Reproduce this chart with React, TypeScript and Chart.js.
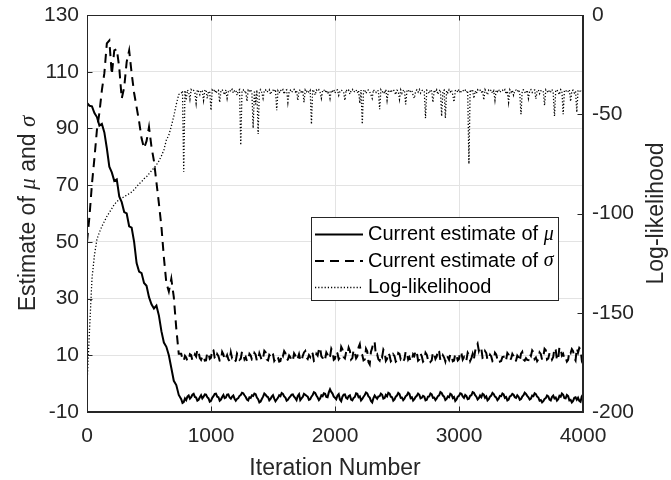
import React, { useEffect, useRef } from "react";
import { Chart, registerables } from "chart.js";

Chart.register(...registerables);

// ---------- data ----------
// iteration numbers (coarse during burn-in, finer afterwards)
const ITERATIONS = [
  0, 20, 40, 60, 80, 100, 120, 140, 160, 180,
  200, 220, 240, 260, 280, 300, 320, 340, 360, 380,
  400, 420, 440, 460, 480, 500, 520, 540, 560, 580,
  600, 620, 640, 660, 680, 700, 720, 740,
  760, 770, 780, 790, 800, 810, 820, 830, 840, 850,
  860, 870, 880, 890, 900, 910, 920, 930, 940, 950,
  960, 970, 980, 990, 1000, 1010, 1020, 1030, 1040, 1050,
  1060, 1070, 1080, 1090, 1100, 1110, 1120, 1130, 1140, 1150,
  1160, 1170, 1180, 1190, 1200, 1210, 1220, 1230, 1240, 1250,
  1260, 1270, 1280, 1290, 1300, 1310, 1320, 1330, 1340, 1350,
  1360, 1370, 1380, 1390, 1400, 1410, 1420, 1430, 1440, 1450,
  1460, 1470, 1480, 1490, 1500, 1510, 1520, 1530, 1540, 1550,
  1560, 1570, 1580, 1590, 1600, 1610, 1620, 1630, 1640, 1650,
  1660, 1670, 1680, 1690, 1700, 1710, 1720, 1730, 1740, 1750,
  1760, 1770, 1780, 1790, 1800, 1810, 1820, 1830, 1840, 1850,
  1860, 1870, 1880, 1890, 1900, 1910, 1920, 1930, 1940, 1950,
  1960, 1970, 1980, 1990, 2000, 2010, 2020, 2030, 2040, 2050,
  2060, 2070, 2080, 2090, 2100, 2110, 2120, 2130, 2140, 2150,
  2160, 2170, 2180, 2190, 2200, 2210, 2220, 2230, 2240, 2250,
  2260, 2270, 2280, 2290, 2300, 2310, 2320, 2330, 2340, 2350,
  2360, 2370, 2380, 2390, 2400, 2410, 2420, 2430, 2440, 2450,
  2460, 2470, 2480, 2490, 2500, 2510, 2520, 2530, 2540, 2550,
  2560, 2570, 2580, 2590, 2600, 2610, 2620, 2630, 2640, 2650,
  2660, 2670, 2680, 2690, 2700, 2710, 2720, 2730, 2740, 2750,
  2760, 2770, 2780, 2790, 2800, 2810, 2820, 2830, 2840, 2850,
  2860, 2870, 2880, 2890, 2900, 2910, 2920, 2930, 2940, 2950,
  2960, 2970, 2980, 2990, 3000, 3010, 3020, 3030, 3040, 3050,
  3060, 3070, 3080, 3090, 3100, 3110, 3120, 3130, 3140, 3150,
  3160, 3170, 3180, 3190, 3200, 3210, 3220, 3230, 3240, 3250,
  3260, 3270, 3280, 3290, 3300, 3310, 3320, 3330, 3340, 3350,
  3360, 3370, 3380, 3390, 3400, 3410, 3420, 3430, 3440, 3450,
  3460, 3470, 3480, 3490, 3500, 3510, 3520, 3530, 3540, 3550,
  3560, 3570, 3580, 3590, 3600, 3610, 3620, 3630, 3640, 3650,
  3660, 3670, 3680, 3690, 3700, 3710, 3720, 3730, 3740, 3750,
  3760, 3770, 3780, 3790, 3800, 3810, 3820, 3830, 3840, 3850,
  3860, 3870, 3880, 3890, 3900, 3910, 3920, 3930, 3940, 3950,
  3960, 3970, 3980, 3990, 4000,
];

// Current estimate of mu (left axis)
const MU = [
  99, 98, 97.8, 95.4, 94, 91, 91.6, 88.6, 83, 76.5,
  74.5, 71.5, 72, 66, 64, 60.5, 60, 55.5, 55, 50,
  42.5, 39.5, 39, 35.5, 34.5, 30.5, 28, 26.5, 27.5, 24,
  18.5, 14.5, 13, 10, 5.5, 1, -0.5, -4,
  -5.5, -6.8, -6.5, -5.2, -5.8, -4.6, -4.2, -5.3, -4.8, -3.9,
  -3.6, -4.7, -4.9, -6.0, -5.7, -4.8, -4.1, -5.2, -4.6, -3.8,
  -3.9, -4.8, -5.2, -6.4, -6.1, -5.0, -4.4, -3.6, -3.5, -4.6,
  -4.8, -6.0, -5.6, -4.7, -4.0, -5.1, -4.9, -3.9, -3.8, -4.9,
  -5.3, -4.6, -4.2, -5.3, -6.0, -5.4, -5.1, -4.3, -4.0, -3.2,
  -3.4, -4.1, -4.7, -5.6, -5.9, -4.8, -5.0, -4.1, -4.3, -3.5,
  -3.7, -4.9, -5.5, -6.6, -6.3, -5.4, -4.6, -3.5, -3.9, -4.5,
  -4.8, -5.9, -5.4, -4.6, -4.1, -5.3, -6.2, -5.6, -5.0, -4.1,
  -4.4, -3.3, -3.6, -4.5, -4.9, -6.0, -5.7, -5.0, -4.5, -3.9,
  -3.8, -4.6, -5.1, -5.8, -4.3, -3.7, -5.8, -5.2, -4.7, -3.6,
  -3.9, -4.3, -4.6, -5.7, -5.5, -4.6, -4.0, -3.0, -3.3, -4.2,
  -4.9, -5.8, -5.2, -4.1, -4.4, -3.4, -3.6, -4.7, -4.8, -3.1,
  -2.0, -2.9, -3.5, -4.6, -5.0, -5.5, -4.2, -3.7, -5.6, -6.2,
  -4.6, -3.9, -3.8, -5.0, -5.3, -4.4, -4.1, -5.6, -5.9, -5.0,
  -4.7, -3.4, -3.6, -4.8, -4.5, -5.9, -5.4, -4.6, -4.0, -3.1,
  -3.4, -4.5, -4.9, -6.1, -6.6, -5.1, -4.2, -4.8, -5.3, -4.5,
  -4.4, -3.5, -3.9, -5.3, -5.1, -4.0, -4.5, -3.2, -3.5, -4.6,
  -4.8, -6.0, -5.6, -4.6, -4.2, -3.3, -3.7, -5.0, -4.9, -5.8,
  -5.3, -4.4, -4.1, -3.2, -3.6, -5.1, -4.8, -6.0, -5.5, -4.7,
  -4.3, -3.5, -3.9, -5.2, -5.0, -4.3, -4.6, -5.9, -5.7, -4.6,
  -4.5, -3.5, -3.8, -5.0, -4.9, -5.8, -5.2, -4.4, -4.1, -3.0,
  -3.3, -4.2, -4.6, -5.8, -5.4, -4.5, -4.8, -3.6, -3.9, -5.1,
  -4.7, -6.1, -5.6, -4.6, -4.3, -3.4, -3.6, -4.5, -5.0, -4.0,
  -4.4, -5.5, -5.3, -4.3, -4.1, -3.0, -3.2, -4.1, -4.6, -5.6,
  -5.1, -4.2, -4.8, -3.6, -3.9, -5.0, -4.5, -5.9, -5.5, -4.6,
  -4.2, -3.3, -3.7, -4.6, -4.9, -5.8, -5.3, -4.3, -4.4, -3.5,
  -3.8, -5.0, -4.7, -5.9, -5.6, -4.5, -4.3, -3.6, -3.9, -4.8,
  -5.0, -4.1, -4.6, -5.7, -5.4, -4.6, -4.1, -3.2, -3.6, -4.3,
  -4.8, -5.6, -5.3, -4.2, -4.4, -3.4, -3.7, -4.6, -4.9, -6.0,
  -5.8, -6.6, -6.2, -5.4, -5.1, -4.2, -4.5, -5.6, -5.9, -4.7,
  -4.2, -5.2, -4.9, -6.0, -5.5, -4.3, -4.6, -3.5, -3.9, -5.1,
  -5.2, -4.0, -4.4, -5.9, -5.7, -6.6, -6.1, -5.0, -4.8, -5.7,
  -5.0, -6.1, -6.4, -4.5, -3.8,
];

// Current estimate of sigma (left axis)
const SIGMA = [
  50, 59, 70.5, 79.5, 89.5, 95.5, 103.5, 109.5, 120, 121,
  109, 117.5, 118, 111.5, 100.5, 104.5, 113.5, 117.5, 109.5, 102.5,
  97.5, 92.5, 86.5, 83, 85.5, 90.5, 83.5, 78.5, 71, 63.5,
  55.5, 44.5, 35.5, 32.5, 37, 30.5, 19.5, 10.5,
  10.5, 8.6, 8.0, 9.8, 9.2, 7.9, 8.3, 10.4, 10.1, 8.2,
  8.7, 10.3, 9.6, 12.0, 11.2, 9.0, 8.4, 9.5, 9.9, 8.1,
  8.2, 11.0, 10.6, 8.7, 9.1, 12.2, 11.8, 9.0, 8.5, 10.4,
  9.7, 8.1, 8.0, 11.2, 10.3, 8.4, 9.0, 10.1, 8.6, 7.9,
  11.0, 9.0, 9.3, 7.8, 8.1, 10.6, 9.8, 8.4, 8.8, 11.3,
  10.7, 8.6, 9.4, 7.9, 8.3, 10.5, 9.9, 8.5, 8.7, 10.8,
  10.2, 8.0, 8.4, 10.7, 9.5, 8.1, 8.9, 11.6, 11.1, 8.5,
  8.2, 10.1, 9.6, 11.0, 10.4, 8.0, 8.6, 9.8, 9.2, 7.8,
  8.0, 10.4, 9.7, 11.5, 10.8, 8.3, 8.5, 9.9, 9.3, 7.9,
  8.1, 10.7, 10.0, 8.3, 9.0, 10.4, 8.4, 7.9, 9.8, 11.0,
  11.5, 9.2, 8.7, 10.1, 9.4, 11.3, 10.6, 8.0, 8.3, 10.5,
  9.9, 11.9, 12.8, 9.6, 9.1, 7.9, 8.6, 11.0, 10.2, 8.8,
  9.5, 12.3, 11.3, 8.4, 8.8, 11.4, 10.7, 8.6, 9.2, 13.0,
  12.1, 9.4, 8.9, 11.2, 10.4, 12.7, 11.6, 8.5, 9.0, 11.9,
  10.8, 8.9, 9.6, 12.8, 13.9, 10.7, 10.1, 8.2, 8.5, 12.3,
  11.4, 7.6, 6.8, 11.3, 12.6, 14.9, 14.6, 9.8, 10.3, 8.6,
  8.1, 10.2, 9.4, 12.0, 11.2, 8.0, 8.7, 10.9, 10.0, 7.9,
  8.4, 10.3, 9.7, 7.8, 8.2, 10.8, 10.5, 8.6, 9.1, 7.9,
  8.6, 11.4, 10.9, 8.5, 9.3, 7.9, 8.0, 10.4, 9.8, 11.7,
  11.0, 8.1, 8.5, 10.6, 9.6, 7.8, 8.3, 10.9, 10.2, 8.4,
  9.0, 7.7, 8.2, 11.1, 10.4, 8.7, 9.5, 12.0, 11.3, 8.1,
  8.6, 10.0, 9.2, 7.8, 10.0, 9.3, 8.4, 10.4, 9.7, 7.9,
  8.1, 10.6, 9.9, 8.2, 8.7, 11.3, 10.6, 8.5, 9.3, 7.8,
  8.3, 10.9, 10.1, 8.0, 9.0, 10.5, 8.6, 11.4, 13.2, 14.1,
  11.6, 13.0, 12.4, 9.1, 9.4, 11.5, 10.8, 8.3, 8.9, 10.2,
  9.6, 7.9, 8.2, 10.9, 10.3, 8.5, 9.1, 7.8, 8.0, 9.4,
  9.5, 7.9, 8.4, 10.8, 10.2, 8.2, 8.8, 10.5, 9.7, 7.8,
  8.1, 9.9, 9.3, 7.9, 10.6, 11.2, 8.5, 8.1, 9.0, 8.4,
  8.3, 10.5, 9.8, 11.7, 11.1, 8.7, 9.2, 7.9, 8.6, 11.0,
  10.4, 8.4, 9.5, 12.3, 11.8, 8.5, 8.9, 10.8, 10.0, 8.5,
  9.4, 12.6, 11.9, 8.2, 8.7, 12.9, 12.2, 9.9, 10.5, 8.6,
  9.1, 7.8, 8.4, 11.4, 10.8, 12.2, 11.5, 9.0, 8.2, 12.5,
  11.0, 12.6, 12.1, 8.4, 9.6,
];

// Log-likelihood (right axis)
const LOGLIK = [
  -186, -159, -133, -121, -113, -109.5, -106.5, -104, -101.5, -99.5,
  -97.5, -95.5, -94, -93, -92.3, -91.5, -90.8, -90, -89.2, -88,
  -86.5, -85, -84, -82.5, -81.5, -80, -78.5, -77, -75.5, -73.5,
  -71, -68, -63, -60.5, -56, -51, -45, -40,
  -39.5, -38.2, -79, -38.0, -43, -37.8, -38.9, -42.5, -37.6, -38.4,
  -38.0, -39.2, -44.5, -37.7, -38.5, -40.1, -37.9, -38.3, -43, -38.1,
  -37.6, -42, -38.4, -39.0, -48, -37.8, -38.6, -37.5, -39.4, -38.2,
  -37.9, -44, -38.3, -37.6, -38.8, -40.2, -37.7, -42, -38.5, -37.8,
  -38.6, -37.5, -39.3, -38.1, -37.8, -40.4, -38.3, -37.6, -65.5, -38.4,
  -37.7, -39.0, -38.2, -43.5, -37.9, -38.6, -37.5, -39.6, -57, -38.0,
  -45, -37.8, -60, -38.5, -37.6, -39.1, -42, -38.2, -37.7, -38.9,
  -38.3, -37.6, -40.0, -38.4, -37.9, -38.7, -37.5, -48, -38.2, -39.3,
  -37.8, -38.5, -37.6, -39.8, -38.1, -37.7, -44, -38.6, -37.9, -39.0,
  -38.2, -37.5, -38.8, -37.9, -43, -38.3, -37.6, -39.5, -38.0, -44,
  -37.7, -38.6, -37.9, -39.2, -38.1, -55, -37.6, -38.4, -40.3, -37.8,
  -38.5, -37.7, -39.0, -42, -38.2, -37.6, -38.9, -37.8, -39.7, -38.3,
  -42, -37.9, -38.4, -37.6, -39.3, -38.0, -37.7, -40.5, -38.6, -37.8,
  -38.2, -39.1, -43, -37.6, -38.5, -37.9, -39.8, -38.1, -37.5, -38.8,
  -38.4, -37.7, -39.2, -38.0, -44.5, -37.8, -55, -38.3, -37.6, -39.5,
  -38.1, -37.8, -38.7, -40.2, -42, -37.6, -38.5, -39.0, -37.9, -38.3,
  -47.5, -37.7, -38.9, -38.2, -39.6, -37.5, -43, -38.4, -37.8, -39.1,
  -38.0, -37.6, -38.6, -40.1, -37.9, -38.3, -42.5, -37.7, -39.4, -38.1,
  -37.8, -45, -38.5, -37.6, -39.0, -38.2, -37.9, -40.6, -42, -38.4,
  -37.7, -38.8, -37.5, -39.3, -38.1, -37.8, -38.6, -52, -37.9, -38.3,
  -39.5, -37.6, -38.4, -44, -37.8, -38.9, -37.7, -40.0, -38.2, -37.6,
  -51, -38.5, -37.9, -52, -38.1, -39.2, -37.6, -38.7, -37.8, -40.3,
  -43.8, -38.2, -37.7, -38.9, -37.5, -39.4, -38.3, -37.8, -38.6, -37.9,
  -39.0, -38.1, -75, -37.6, -38.5, -37.8, -42, -38.3, -39.6, -37.7,
  -38.4, -37.9, -39.1, -38.0, -42.8, -37.6, -38.7, -40.2, -37.8, -38.3,
  -37.7, -39.4, -38.2, -43, -37.9, -38.6, -37.5, -39.0, -38.1, -37.8,
  -38.5, -37.6, -39.8, -38.3, -44, -37.7, -38.9, -37.9, -40.4, -38.2,
  -37.8, -38.6, -37.6, -39.3, -50, -38.0, -37.7, -38.8, -39.5, -37.9,
  -42, -38.3, -37.6, -39.0, -38.1, -37.8, -42.2, -38.5, -37.7, -39.6,
  -38.2, -37.9, -38.7, -45.5, -37.6, -38.4, -39.2, -37.8, -38.6, -37.5,
  -39.4, -51, -38.0, -37.7, -38.9, -40.1, -37.6, -38.3, -50, -38.1,
  -37.8, -39.0, -38.5, -37.6, -43.5, -38.2, -37.9, -39.3, -38.4, -49,
  -38.2, -37.7, -38.6, -38.0, -38.4,
];

const SERIES_LABELS = ["Current estimate of ", "Current estimate of ", "Log-likelihood"];
const SERIES_GREEK = ["\u03bc", "\u03c3", ""];

const X_MIN = 0, X_MAX = 4000, X_STEP = 1000;
const Y_MIN = -10, Y_MAX = 130, Y_STEP = 20;
const Y2_MIN = -200, Y2_MAX = 0, Y2_STEP = 50;

const X_TITLE = "Iteration Number";
const Y_TITLE_PARTS = [
  { t: "Estimate of ", it: false },
  { t: "\u03bc", it: true },
  { t: " and ", it: false },
  { t: "\u03c3", it: true },
];
const Y2_TITLE = "Log-likelihood";

// ---------- styles ----------
const FONT = "'Liberation Sans', Arial, Helvetica, sans-serif";
const SERIF = "'Liberation Serif', 'DejaVu Serif', serif";
const AXIS_COLOR = "#262626";
const GRID_COLOR = "#e3e3e3";
const TICK_LEN = 5;
const SOLID: number[] = [];
const DASHED = [9, 6];
const DOTTED = [1.2, 2];
const DASHES = [SOLID, DASHED, DOTTED];
const WIDTHS = [2, 2, 1.3];

const decorPlugin = {
  id: "decor",
  afterDraw(chart: any) {
    const { ctx, chartArea: ca, scales } = chart;
    const sx = scales.x, sy = scales.y, sy2 = scales.y2;
    ctx.save();
    ctx.setLineDash([]);
    const L = Math.round(ca.left) + 0.5, R = Math.round(ca.right) - 0.5;
    const T = Math.round(ca.top) + 0.5, B = Math.round(ca.bottom) - 0.5;
    ctx.strokeStyle = AXIS_COLOR;
    ctx.lineWidth = 1;
    ctx.strokeRect(L, T, R - L, B - T);
    ctx.beginPath();
    sx.ticks.forEach((t: any) => {
      const px = Math.round(sx.getPixelForValue(t.value)) + 0.5;
      ctx.moveTo(px, B); ctx.lineTo(px, B - TICK_LEN);
      ctx.moveTo(px, T); ctx.lineTo(px, T + TICK_LEN);
    });
    sy.ticks.forEach((t: any) => {
      const py = Math.round(sy.getPixelForValue(t.value)) + 0.5;
      ctx.moveTo(L, py); ctx.lineTo(L + TICK_LEN, py);
    });
    sy2.ticks.forEach((t: any) => {
      const py = Math.round(sy2.getPixelForValue(t.value)) + 0.5;
      ctx.moveTo(R, py); ctx.lineTo(R - TICK_LEN, py);
    });
    ctx.stroke();

    // legend
    const bw = 247, bh = 83;
    const bx = Math.round(ca.right) - 25 - bw;
    const by = Math.round(ca.top) + 202;
    ctx.fillStyle = "#ffffff";
    ctx.fillRect(bx, by, bw, bh);
    ctx.strokeStyle = AXIS_COLOR;
    ctx.lineWidth = 1;
    ctx.strokeRect(bx + 0.5, by + 0.5, bw, bh);
    const legendSize = 20;
    for (let i = 0; i < SERIES_LABELS.length; i++) {
      const cy = by + 17.5 + i * 26.5;
      ctx.beginPath();
      ctx.setLineDash(DASHES[i]);
      ctx.lineWidth = WIDTHS[i];
      ctx.strokeStyle = "#000";
      ctx.moveTo(bx + 4, cy);
      ctx.lineTo(bx + 52, cy);
      ctx.stroke();
      ctx.setLineDash([]);
      ctx.fillStyle = "#000";
      ctx.textBaseline = "middle";
      ctx.textAlign = "left";
      ctx.font = `${legendSize}px ${FONT}`;
      const tx = bx + 57;
      ctx.fillText(SERIES_LABELS[i], tx, cy);
      if (SERIES_GREEK[i]) {
        const w = ctx.measureText(SERIES_LABELS[i]).width;
        ctx.font = `italic ${legendSize}px ${SERIF}`;
        ctx.fillText(SERIES_GREEK[i], tx + w, cy);
      }
    }

    // titles
    const titleSize = 23;
    const midY = (ca.top + ca.bottom) / 2;
    ctx.fillStyle = AXIS_COLOR;
    ctx.textBaseline = "alphabetic";
    ctx.textAlign = "center";
    ctx.font = `${titleSize}px ${FONT}`;
    ctx.fillText(X_TITLE, (ca.left + ca.right) / 2, 475);

    ctx.save();
    ctx.translate(34.5, midY);
    ctx.rotate(-Math.PI / 2);
    ctx.textAlign = "left";
    const fontFor = (it: boolean) => (it ? `italic ${titleSize}px ${SERIF}` : `${titleSize}px ${FONT}`);
    let total = 0;
    const widths = Y_TITLE_PARTS.map((p) => {
      ctx.font = fontFor(p.it);
      const w = ctx.measureText(p.t).width;
      total += w;
      return w;
    });
    let cx = -total / 2;
    Y_TITLE_PARTS.forEach((p, i) => {
      ctx.font = fontFor(p.it);
      ctx.fillText(p.t, cx, 0);
      cx += widths[i];
    });
    ctx.restore();

    ctx.save();
    ctx.translate(663, midY);
    ctx.rotate(-Math.PI / 2);
    ctx.textAlign = "center";
    ctx.font = `${titleSize}px ${FONT}`;
    ctx.fillText(Y2_TITLE, 0, 0);
    ctx.restore();

    ctx.restore();
  },
};

export default function App() {
  const ref = useRef<HTMLCanvasElement | null>(null);
  useEffect(() => {
    document.body.style.margin = "0";
    const canvas = ref.current;
    if (!canvas) return;
    const tickFont = { family: FONT, size: 21 };
    const mk = (vals: number[]) => ITERATIONS.map((x, i) => ({ x, y: vals[i] }));
    const fmt = (v: any) => String(v);
    const chart = new Chart(canvas, {
      type: "line",
      data: {
        datasets: [
          {
            label: SERIES_LABELS[0] + SERIES_GREEK[0],
            data: mk(MU),
            yAxisID: "y",
            borderColor: "#000",
            borderWidth: WIDTHS[0],
            borderDash: DASHES[0],
            pointRadius: 0,
            tension: 0,
            fill: false,
          },
          {
            label: SERIES_LABELS[1] + SERIES_GREEK[1],
            data: mk(SIGMA),
            yAxisID: "y",
            borderColor: "#000",
            borderWidth: WIDTHS[1],
            borderDash: DASHES[1],
            pointRadius: 0,
            tension: 0,
            fill: false,
          },
          {
            label: SERIES_LABELS[2],
            data: mk(LOGLIK),
            yAxisID: "y2",
            borderColor: "#000",
            borderWidth: WIDTHS[2],
            borderDash: DASHES[2],
            pointRadius: 0,
            tension: 0,
            fill: false,
          },
        ],
      },
      options: {
        animation: false,
        responsive: false,
        maintainAspectRatio: false,
        layout: { padding: { top: 15, left: 0, right: 0, bottom: 0 } },
        plugins: { legend: { display: false }, tooltip: { enabled: false } },
        scales: {
          x: {
            type: "linear",
            min: X_MIN,
            max: X_MAX,
            ticks: { stepSize: X_STEP, font: tickFont, color: AXIS_COLOR, padding: 12, maxRotation: 0, callback: fmt },
            grid: { color: GRID_COLOR, drawTicks: false },
            border: { color: AXIS_COLOR, width: 1 },
            afterFit: (s: any) => { s.height = 68; s.paddingLeft = 0; s.paddingRight = 0; },
          },
          y: {
            type: "linear",
            position: "left",
            min: Y_MIN,
            max: Y_MAX,
            ticks: { stepSize: Y_STEP, font: tickFont, color: AXIS_COLOR, padding: 8, callback: fmt },
            grid: { color: GRID_COLOR, drawTicks: false },
            border: { color: AXIS_COLOR, width: 1 },
            afterFit: (s: any) => { s.width = 87; s.paddingTop = 0; s.paddingBottom = 0; },
          },
          y2: {
            type: "linear",
            position: "right",
            min: Y2_MIN,
            max: Y2_MAX,
            ticks: { stepSize: Y2_STEP, font: tickFont, color: AXIS_COLOR, padding: 9, callback: fmt },
            grid: { display: false, drawTicks: false },
            border: { color: AXIS_COLOR, width: 1 },
            afterFit: (s: any) => { s.width = 88; s.paddingTop = 0; s.paddingBottom = 0; },
          },
        },
      },
      plugins: [decorPlugin],
    } as any);
    return () => chart.destroy();
  }, []);
  return (
    <div style={{ position: "absolute", left: 0, top: 0, width: 671, height: 480 }}>
      <canvas ref={ref} width={671} height={480} style={{ display: "block" }} />
    </div>
  );
}
